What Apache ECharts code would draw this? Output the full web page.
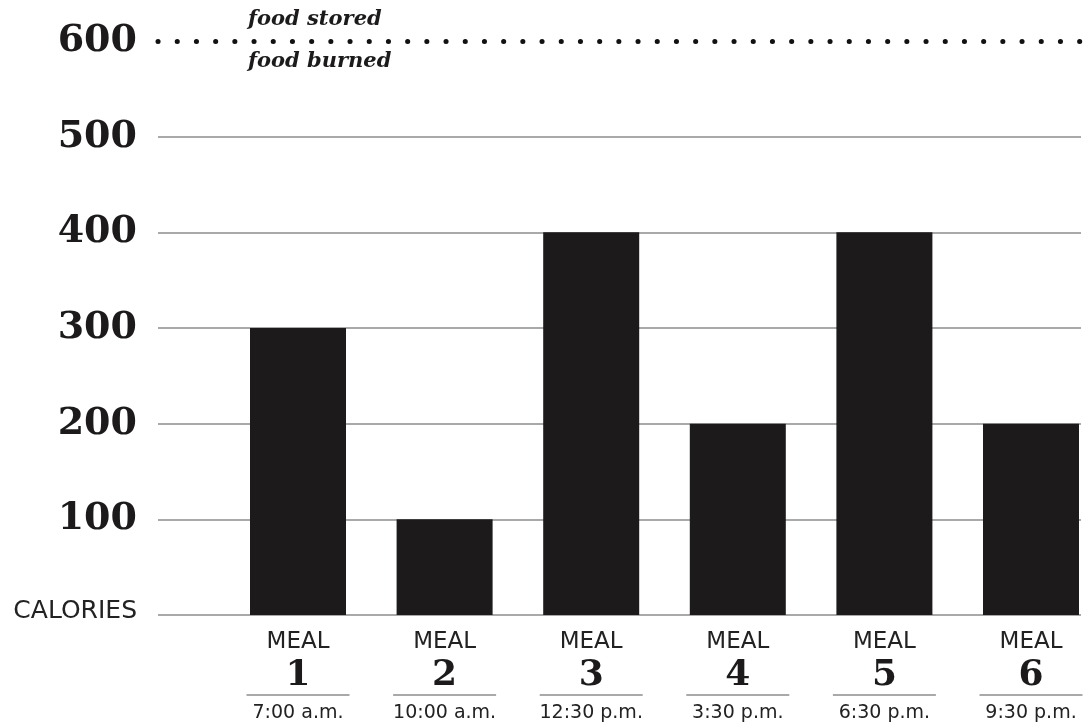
<!DOCTYPE html>
<html>
<head>
<meta charset="utf-8">
<script src="https://cdn.jsdelivr.net/npm/echarts@6/dist/echarts.min.js"></script>
<style>
  html, body { margin: 0; padding: 0; background: #fff; }
  #chart { width: 1088px; height: 728px; }
</style>
</head>
<body>
<div id="chart"></div>
<script>
// Calories eaten at each of six meals through the day
const mealNumbers = ['1', '2', '3', '4', '5', '6'];
const mealTimes = ['7:00 a.m.', '10:00 a.m.', '12:30 p.m.', '3:30 p.m.', '6:30 p.m.', '9:30 p.m.'];
const calories = [300, 100, 400, 200, 400, 200];
const yTicks = [0, 100, 200, 300, 400, 500, 600];
const thresholdValue = 600;
const thresholdAbove = 'food stored';
const thresholdBelow = 'food burned';
const zeroLabel = 'CALORIES';
const mealWord = 'MEAL';

const ink = '#1c1a1b';
const gridGray = '#a9a9a9';
const yMin = yTicks[0];
const yMax = yTicks[yTicks.length - 1];
const yStep = yTicks[1] - yTicks[0];

const chart = echarts.init(document.getElementById('chart'), null, { renderer: 'canvas' });

const option = {
  backgroundColor: '#ffffff',
  animation: false,
  grid: [
    // scale + horizontal rules
    { left: 158, right: 7, top: 41, bottom: 113 },
    // bars: first and last meal sit on the grid edges (boundaryGap false)
    { left: 298, right: 57, top: 41, bottom: 113 }
  ],
  xAxis: [
    { gridIndex: 0, type: 'category', data: [''], show: false },
    {
      gridIndex: 1,
      type: 'category',
      data: mealNumbers,
      boundaryGap: false,
      axisLine: { show: false },
      axisTick: { show: false },
      splitLine: { show: false },
      axisLabel: {
        margin: 10,
        interval: 0,
        formatter: function (v, i) {
          return '{meal|' + mealWord + '}\n{num|' + v + '}\n{rule| }\n{time|' + mealTimes[i] + '}';
        },
        rich: {
          meal: { fontFamily: 'DejaVu Sans', fontSize: 23, color: '#222', lineHeight: 34, align: 'center' },
          num: { fontFamily: 'DejaVu Serif', fontWeight: 'bold', fontSize: 36, color: ink, lineHeight: 34, align: 'center' },
          rule: { width: 103, height: 2, lineHeight: 4, backgroundColor: gridGray, fontSize: 2, align: 'center' },
          time: { fontFamily: 'DejaVu Sans', fontSize: 19, color: '#222', lineHeight: 32, align: 'center' }
        }
      }
    }
  ],
  yAxis: [
    {
      gridIndex: 0,
      type: 'value',
      min: yMin,
      max: yMax,
      interval: yStep,
      axisLine: { show: false },
      axisTick: { show: false },
      splitLine: { show: true, showMaxLine: false, lineStyle: { color: gridGray, width: 2 } },
      axisLabel: {
        margin: 21,
        formatter: function (v) {
          return v === 0 ? '{cal|' + zeroLabel + '}' : '{num|' + v + '}';
        },
        rich: {
          num: { fontFamily: 'DejaVu Serif', fontWeight: 'bold', fontSize: 38, color: ink },
          cal: { fontFamily: 'DejaVu Sans', fontSize: 25, color: '#222', padding: [0, 0, 8, 0] }
        }
      }
    },
    {
      gridIndex: 1,
      type: 'value',
      min: yMin,
      max: yMax,
      interval: yStep,
      show: false,
      splitLine: { show: false }
    }
  ],
  series: [
    {
      // dotted threshold line across the full scale width
      type: 'line',
      xAxisIndex: 0,
      yAxisIndex: 0,
      data: [],
      silent: true,
      markLine: {
        silent: true,
        symbol: 'none',
        label: { show: false },
        lineStyle: { color: '#111', width: 5, type: [0.1, 19.1], cap: 'round' },
        data: [{ yAxis: thresholdValue }]
      }
    },
    {
      type: 'bar',
      xAxisIndex: 1,
      yAxisIndex: 1,
      data: calories,
      barWidth: 96,
      clip: false,
      itemStyle: { color: ink },
      z: 3
    }
  ],
  graphic: [
    {
      type: 'text',
      left: 248,
      top: 9,
      style: {
        text: thresholdAbove,
        font: 'italic bold 21px "DejaVu Serif"',
        fill: ink
      }
    },
    {
      type: 'text',
      left: 248,
      top: 51,
      style: {
        text: thresholdBelow,
        font: 'italic bold 21px "DejaVu Serif"',
        fill: ink
      }
    }
  ]
};

chart.setOption(option);
</script>
</body>
</html>
